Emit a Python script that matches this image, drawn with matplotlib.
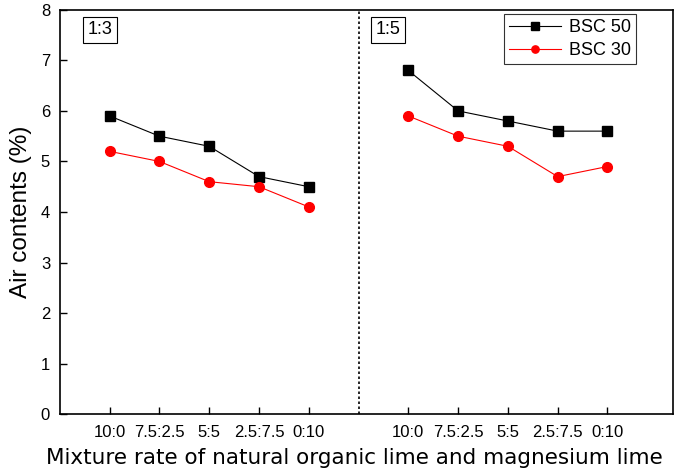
import numpy as np
import matplotlib
matplotlib.use("Agg")
import matplotlib.pyplot as plt

# mixture ratios, repeated for the 1:3 and 1:5 groups
ratios = ["10:0", "7.5:2.5", "5:5", "2.5:7.5", "0:10"]
groups = ["1:3", "1:5"]

bsc50_13 = [5.9, 5.5, 5.3, 4.7, 4.5]
bsc50_15 = [6.8, 6.0, 5.8, 5.6, 5.6]
bsc30_13 = [5.2, 5.0, 4.6, 4.5, 4.1]
bsc30_15 = [5.9, 5.5, 5.3, 4.7, 4.9]

plt.rcParams["font.family"] = ["Liberation Sans", "DejaVu Sans"]

fig = plt.figure(figsize=(6.8, 4.69), dpi=100)
ax = fig.add_axes([0.088, 0.117, 0.902, 0.862])

x_left = np.arange(1, 6)
x_right = np.arange(7, 12)

ax.plot(x_left, bsc50_13, color="black", lw=0.8, marker="s", ms=7, label="BSC 50")
ax.plot(x_right, bsc50_15, color="black", lw=0.8, marker="s", ms=7)
ax.plot(x_left, bsc30_13, color="red", lw=0.8, marker="o", ms=7, label="BSC 30")
ax.plot(x_right, bsc30_15, color="red", lw=0.8, marker="o", ms=7)

ax.axvline(6, color="black", lw=1.2, ls=(0, (1.5, 1.5)))

ax.set_xlim(0, 12.32)
ax.set_ylim(0, 8)
ax.set_xticks(np.concatenate([x_left, x_right]))
ax.set_xticklabels(ratios + ratios, fontsize=10,
                   family=["Liberation Sans Narrow", "Liberation Sans", "DejaVu Sans"])
ax.set_yticks(range(0, 9))
ax.tick_params(axis="both", direction="in", length=5, width=1, labelsize=12)
ax.tick_params(axis="x", pad=8)
ax.tick_params(axis="y", pad=7)
for s in ax.spines.values():
    s.set_linewidth(1.2)

ax.set_ylabel("Air contents (%)", fontsize=17.5, labelpad=6)
ax.set_xlabel("Mixture rate of natural organic lime and magnesium lime",
              fontsize=15.5, labelpad=5, family="DejaVu Sans")
ax.xaxis.set_label_coords(0.48, -0.085)

box = dict(boxstyle="square,pad=0.25", fc="white", ec="black", lw=0.8)
ax.text(0.81, 7.61, groups[0], fontsize=13, ha="center", va="center", bbox=box)
ax.text(6.59, 7.61, groups[1], fontsize=13, ha="center", va="center", bbox=box)

leg = ax.legend(loc="upper right", bbox_to_anchor=(636 / 680, 1 - 14 / 469),
                bbox_transform=fig.transFigure, borderaxespad=0,
                fontsize=13, frameon=True, fancybox=False,
                edgecolor="black", handlelength=2.9,
                handletextpad=0.4, borderpad=0.3, labelspacing=0.3,
                markerscale=0.75)
leg.get_frame().set_linewidth(0.8)

fig.savefig("out.png", dpi=100)
